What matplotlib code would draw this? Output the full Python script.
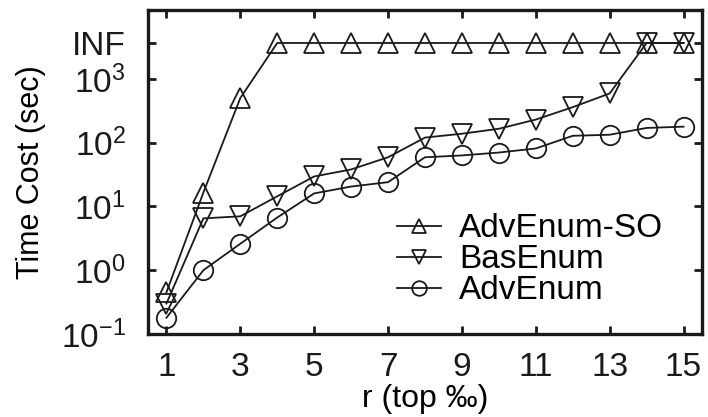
import numpy as np
import matplotlib
matplotlib.use("Agg")
import matplotlib.pyplot as plt

plt.rcParams['font.family'] = ['Liberation Sans', 'DejaVu Sans']
plt.rcParams['mathtext.fontset'] = 'custom'
plt.rcParams['mathtext.rm'] = 'Liberation Sans'
plt.rcParams['mathtext.it'] = 'Liberation Sans:italic'

INF = 3650.0   # hvor "INF" sidder på y-aksen (lidt over 10^3)

r = [1, 2, 3, 4, 5, 6, 7, 8, 9, 10, 11, 12, 13, 14, 15]

adv_so  = [0.45, 16.5, 500, INF, INF, INF, INF, INF, INF, INF, INF, INF, INF, INF, INF]
bas     = [0.30, 6.5, 7.0, 14.4, 29.5, 38, 59, 120, 138, 165, 230, 360, 590, INF, INF]
adv     = [0.18, 1.0, 2.6, 6.7, 16, 20.5, 24, 59, 63, 70, 81, 128, 133, 170, 178]

ytick_vals   = [0.1, 1, 10, 100, 1000, INF]
ytick_labels = [r'$10^{-1}$', r'$10^{0}$', r'$10^{1}$', r'$10^{2}$', r'$10^{3}$', 'INF']
xtick_vals   = [1, 3, 5, 7, 9, 11, 13, 15]

fig = plt.figure(figsize=(7.08, 4.17), dpi=100)
ax = fig.add_axes([0.209, 0.199, 0.7825, 0.777])

style = dict(color='#1a1a1a', lw=1.3, mfc='none', mew=1.3, ms=14)
ax.plot(r, adv_so, marker='^', label='AdvEnum-SO', **style)
ax.plot(r, bas, marker='v', label='BasEnum', **style)
ax.plot(r, adv, marker='o', label='AdvEnum', **style)

ax.set_yscale('log')
ax.set_ylim(0.1, 12000)
ax.set_xlim(0.5, 15.5)
ax.set_yticks(ytick_vals)
ax.set_yticklabels(ytick_labels)
ax.yaxis.set_minor_locator(matplotlib.ticker.NullLocator())
ax.set_xticks(xtick_vals)
ax.set_xticklabels([str(v) for v in xtick_vals])

ax.tick_params(direction='in', length=6, width=2, top=True, right=True,
               labelsize=24, pad=13, colors='#1a1a1a')
ax.tick_params(axis='y', pad=16)
for s in ax.spines.values():
    s.set_linewidth(2.4)
    s.set_color('#1a1a1a')

ax.set_xlabel('r (top ‰)', fontsize=23, labelpad=1)
ax.set_ylabel('Time Cost (sec)', fontsize=22, labelpad=11)

ax.legend(loc='upper left', bbox_to_anchor=(0.45, 0.372), frameon=False,
          fontsize=24, handlelength=1.3, handletextpad=0.55, markerscale=0.75,
          labelspacing=0.0, borderpad=0, borderaxespad=0)

fig.savefig('out.png', dpi=100)
